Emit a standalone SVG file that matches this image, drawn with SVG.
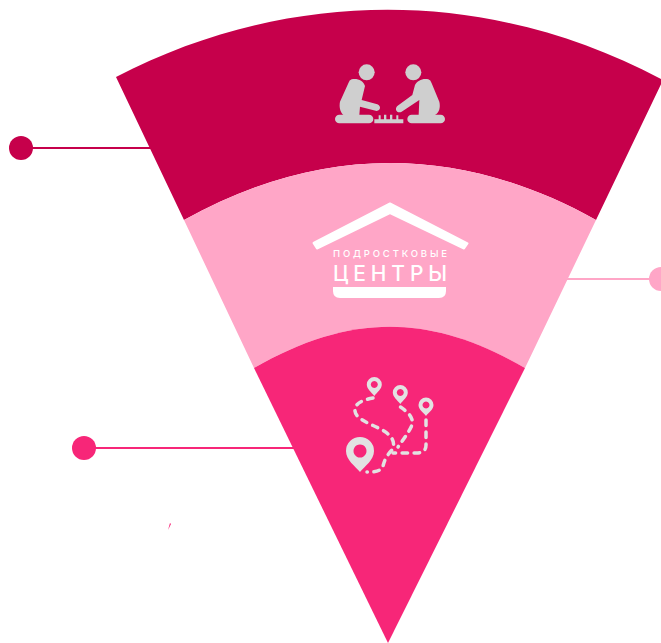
<svg xmlns="http://www.w3.org/2000/svg" width="661" height="643" viewBox="0 0 661 643">
<style>
.lg{fill:#cfcfcf}
.dash{fill:none;stroke:#e2e2e2;stroke-width:3.500;stroke-linecap:round;stroke-dasharray:5.500 6.500}
.pin{fill:#e2e2e2;fill-rule:evenodd}
.w{fill:#fff;font-family:Inter,"Liberation Sans",Arial,sans-serif;font-weight:500}
</style>
<rect width="661" height="643" fill="#fff"/>
<g id="connectors" fill="none" stroke-width="2">
<path d="M21 148H155" stroke="#c6004b"/>
<path d="M560 279H655" stroke="#ffa6c7"/>
<path d="M84 448H298" stroke="#f72678"/>
</g>
<g id="node-top">
<path d="M116 77C290 -13 490 -13 663 80L596 220C460 144 320 144 184 220Z" fill="#c6004b"/>
<circle cx="21" cy="148" r="12" fill="#c6004b"/>
<g class="lg" transform="translate(320 50) scale(.3333)">
<circle cx="140" cy="67" r="24"/><circle cx="280" cy="67" r="24"/>
<path d="M95 88C112 84 130 92 135 108L125 150L172 163C184 168 182 182 170 183L120 170L118 195H70C60 185 57 170 60 155L85 100Q88 90 95 88Z"/>
<path d="M325 88C308 84 292 92 285 105L277 135L232 168C222 178 232 192 245 185L298 150L296 195H345C358 188 362 172 358 155L335 100Q332 90 325 88Z"/>
<rect x="45" y="194" width="115" height="26" rx="13"/>
<rect x="262" y="194" width="113" height="26" rx="13"/>
<path d="M163 208H250V220H163ZM176 196h6v12h-6ZM192 194h7v14h-7ZM210 194h7v14h-7ZM229 196h6v12h-6Z"/>
</g>
</g>
<g id="node-middle">
<path d="M184 220C320 144 460 144 596 220L525 368C430 313 350 313 254 368Z" fill="#ffa6c7"/>
<circle cx="661" cy="279" r="12" fill="#ffa6c7"/>
<path d="M390 203.500L467.500 243.500L464 248.500L390 213L317 248.500L313.500 243Z" fill="#fff" stroke="#fff" stroke-width="2" stroke-linejoin="round"/>
<text class="w" x="333" y="257" font-size="9.500" textLength="114" lengthAdjust="spacing">ПОДРОСТКОВЫЕ</text>
<text class="w" x="333" y="281" font-size="21" textLength="114" lengthAdjust="spacing">ЦЕНТРЫ</text>
<path d="M333 287H446V291Q446 298 439 298H340Q333 298 333 291Z" fill="#fff"/>
</g>
<g id="node-bottom">
<path d="M254 368C350 313 430 313 525 368L388 643Z" fill="#f72678"/>
<circle cx="84" cy="448" r="12" fill="#f72678"/>
<path d="M168 530L170 523L171 524Z" fill="#f72678"/>
<path class="dash" d="M373 398C362 400 354 404 355 411C356 420 372 424 384 431C392 436 396 443 392 450C386 456 384 462 383 466C381 471 376 472 367 472"/>
<path class="dash" d="M400.500 407C408 412 414 418 412 425C408 434 402 441 398 447"/>
<path class="dash" d="M426 420V445C426 451 422 453 416 453H393"/>
<path class="pin" d="M374.300 377a7.500 7.500 0 0 1 7.500 7.500C381.800 389 377.300 392 374.300 396C371.300 392 366.800 389 366.800 384.500A7.500 7.500 0 0 1 374.300 377ZM374.300 381a3.500 3.500 0 1 0 .01 0Z"/>
<path class="pin" d="M400.300 385a7.500 7.500 0 0 1 7.500 7.500C407.800 397 403.300 400 400.300 404C397.300 400 392.800 397 392.800 392.500A7.500 7.500 0 0 1 400.300 385ZM400.300 389a3.500 3.500 0 1 0 .01 0Z"/>
<path class="pin" d="M426 397.500a7.500 7.500 0 0 1 7.500 7.500C433.500 409.500 429 412 426 416C423 412 418.500 409.500 418.500 405A7.500 7.500 0 0 1 426 397.500ZM426 401.500a3.500 3.500 0 1 0 .01 0Z"/>
<path class="pin" d="M360 437a14 14 0 0 1 14 14C374 460 365 466 360 472C355 466 346 460 346 451A14 14 0 0 1 360 437ZM360 444.500a6.500 6.500 0 1 0 .01 0Z"/>
</g>
</svg>
